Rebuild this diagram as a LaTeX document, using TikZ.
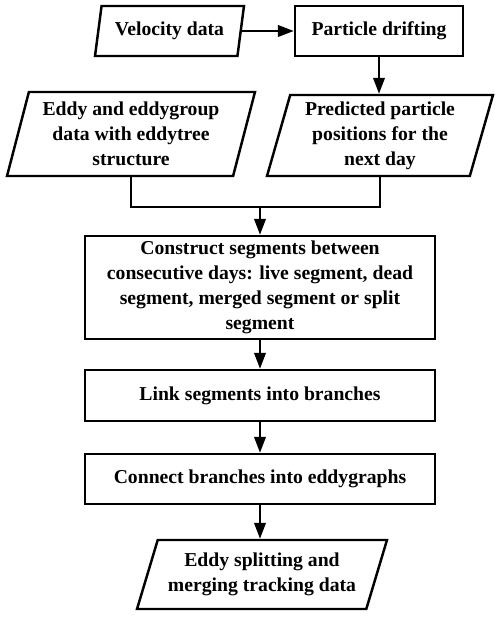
\documentclass[tikz,border=0pt]{standalone}
\usepackage{fontspec}
\setmainfont{Liberation Serif}
\usepackage{tikz}
\usetikzlibrary{positioning,arrows.meta,shapes.geometric}

\tikzset{
  procbox/.style={draw, line width=1.4pt, align=center, inner sep=2pt},
  iobox/.style={draw, line width=1.4pt, align=center, inner sep=1pt,
    trapezium, trapezium stretches body},
  flow/.style={-{Triangle[length=9pt,width=6.5pt]}, line width=1.3pt},
  link/.style={line width=1.3pt},
}

\begin{document}
\begin{tikzpicture}[x=0.02cm, y=-0.02cm, font=\fontsize{11.2}{14.2}\selectfont\bfseries]
  \useasboundingbox (0,0) rectangle (500,617);
  % inputs and drifting step
  \node[iobox, trapezium left angle=73, trapezium right angle=107,
    minimum width=2.98cm, minimum height=1cm] (vel) at (169.5,31) {Velocity data};
  \node[procbox, minimum width=3.36cm, minimum height=1cm] (drift) at (379,31) {Particle drifting};
  \node[iobox, trapezium left angle=72, trapezium right angle=108,
    minimum width=4.96cm, minimum height=1.68cm] (eddy) at (131,134)
    {Eddy and eddygroup\\data with eddytree\\structure};
  \node[iobox, trapezium left angle=72, trapezium right angle=108,
    minimum width=4.52cm, minimum height=1.62cm] (pred) at (380,135.5)
    {Predicted particle\\positions for the\\next day};
  % processing chain
  \node[procbox, minimum width=7cm, minimum height=2.06cm] (segs) at (260,287.5)
    {Construct segments between\\consecutive days: live segment, dead\\segment, merged segment or split\\segment};
  \node[procbox, minimum width=7cm, minimum height=1.02cm] (branch) at (260,395.5)
    {Link segments into branches};
  \node[procbox, minimum width=7cm, minimum height=1cm] (graphs) at (260,479)
    {Connect branches into eddygraphs};
  \node[iobox, trapezium left angle=66, trapezium right angle=114,
    minimum width=5cm, minimum height=1.38cm] (out) at (262,574.5)
    {Eddy splitting and\\merging tracking data};
  \coordinate (join) at (260,207);

  \draw[flow] (vel.east) -- (drift.west);
  \draw[flow] (drift.south) -- (drift.south |- pred.north);
  \draw[link] (eddy.south) |- (join) -| (pred.south);
  \draw[flow] (join) -- (segs.north);
  \draw[flow] (segs) -- (branch);
  \draw[flow] (branch) -- (graphs);
  \draw[flow] (graphs.south) -- (graphs.south |- out.north);
\end{tikzpicture}
\end{document}
